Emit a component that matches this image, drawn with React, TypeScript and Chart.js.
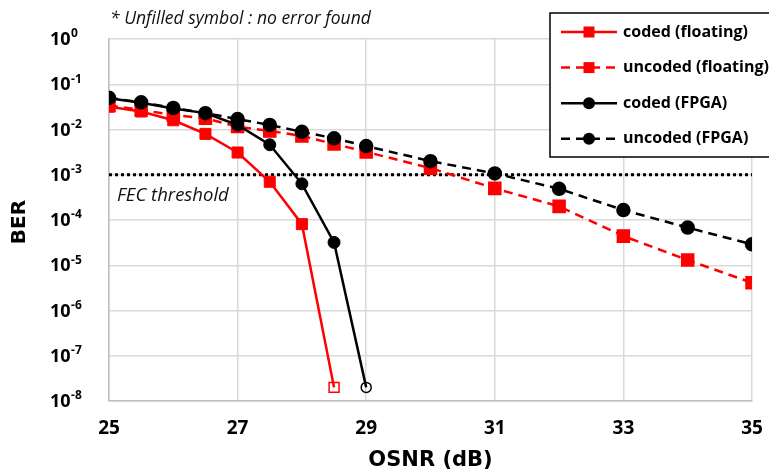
import { useEffect, useRef } from 'react';
import { Chart, registerables } from 'chart.js';

Chart.register(...registerables);

// ---- data ----
const osnrCodedFloating = [25, 25.5, 26, 26.5, 27, 27.5, 28, 28.5];
const berCodedFloating = [0.032, 0.025, 0.016, 0.008, 0.0031, 0.0007, 8.1e-5, 2e-8];
const osnrCodedFPGA = [25, 25.5, 26, 26.5, 27, 27.5, 28, 28.5, 29];
const berCodedFPGA = [0.049, 0.039, 0.029, 0.023, 0.0126, 0.0046, 0.00063, 3.2e-5, 2e-8];
const osnrUncoded = [25, 25.5, 26, 26.5, 27, 27.5, 28, 28.5, 29, 30, 31, 32, 33, 34, 35];
const berUncodedFloating = [0.034, 0.027, 0.021, 0.0177, 0.0116, 0.0093, 0.0072, 0.0048, 0.0032, 0.0014, 0.0005, 0.0002, 4.4e-5, 1.3e-5, 4.1e-6];
const berUncodedFPGA = [0.05, 0.04, 0.03, 0.023, 0.017, 0.0126, 0.0089, 0.0064, 0.0043, 0.002, 0.00107, 0.00049, 0.000166, 6.8e-5, 2.9e-5];
// index of points where no error was found (drawn unfilled)
const noErrorCodedFloating = [7];
const noErrorCodedFPGA = [8];
const fecThreshold = 1e-3;
const fecRange = [25, 35];
const xTickValues = [25, 27, 29, 31, 33, 35];
const yExponents = [0, -1, -2, -3, -4, -5, -6, -7, -8];

const seriesLabels = ['coded (floating)', 'uncoded (floating)', 'coded (FPGA)', 'uncoded (FPGA)'];
const noteText = '* Unfilled symbol : no error found';
const fecLabel = 'FEC threshold';
const xTitle = 'OSNR (dB)';
const yTitle = 'BER';

const RED = '#ff0000';
const BLACK = '#000000';
const FONT = '"Open Sans", "Noto Sans", sans-serif';
const WIDE_FONT = '"DejaVu Sans", "Open Sans", sans-serif';

function pts(xs: number[], ys: number[]) {
  return xs.map((x, i) => ({ x, y: ys[i] }));
}

function fills(n: number, color: string, empty: number[]) {
  return Array.from({ length: n }, (_, i) => (empty.includes(i) ? 'rgba(0,0,0,0)' : color));
}
function sizes(n: number, normal: number, emptyR: number, empty: number[]) {
  return Array.from({ length: n }, (_, i) => (empty.includes(i) ? emptyR : normal));
}

const decorPlugin = {
  id: 'decor',
  afterDraw(chart: any) {
    const ctx = chart.ctx as CanvasRenderingContext2D;
    const area = chart.chartArea;
    const yScale = chart.scales.y;
    ctx.save();

    // y tick labels with superscript exponents
    ctx.fillStyle = '#000';
    ctx.textAlign = 'left';
    ctx.textBaseline = 'middle';
    yScale.ticks.forEach((t: any) => {
      const py = yScale.getPixelForValue(t.value);
      const exp = Math.round(Math.log10(t.value));
      ctx.font = `bold 18px ${FONT}`;
      ctx.fillText('10', 50, py + 1);
      const w = ctx.measureText('10').width;
      ctx.font = `bold 12px ${FONT}`;
      ctx.fillText(String(exp), 50 + w + 0.5, py - 5);
    });

    // y title
    ctx.save();
    ctx.translate(20, (area.top + area.bottom) / 2 + 2);
    ctx.rotate(-Math.PI / 2);
    ctx.textAlign = 'center';
    ctx.textBaseline = 'middle';
    ctx.font = `bold 20px ${WIDE_FONT}`;
    ctx.fillText(yTitle, 0, 0);
    ctx.restore();

    // x title
    ctx.textAlign = 'center';
    ctx.textBaseline = 'middle';
    ctx.font = `bold 21px ${WIDE_FONT}`;
    ctx.fillText(xTitle, (area.left + area.right) / 2, 461);

    // note and FEC label
    ctx.textAlign = 'left';
    ctx.fillStyle = '#111';
    ctx.font = `italic 17.5px ${FONT}`;
    ctx.fillText(noteText, 110, 19);
    ctx.font = `italic 18.5px ${FONT}`;
    ctx.fillText(fecLabel, 117, yScale.getPixelForValue(fecThreshold) + 21);

    // legend
    const bx = 550, by = 13, bw = 240, bh = 144;
    ctx.fillStyle = '#fff';
    ctx.fillRect(bx, by, bw, bh);
    ctx.strokeStyle = '#000';
    ctx.lineWidth = 1.5;
    ctx.strokeRect(bx, by, bw, bh);
    const legendSets = chart.data.datasets.filter((d: any) => seriesLabels.includes(d.label));
    legendSets.forEach((d: any, i: number) => {
      const ry = 32 + i * 35.6;
      ctx.strokeStyle = d.borderColor;
      ctx.lineWidth = 2.5;
      ctx.setLineDash(d.borderDash || []);
      ctx.beginPath();
      ctx.moveTo(561, ry);
      ctx.lineTo(617, ry);
      ctx.stroke();
      ctx.setLineDash([]);
      ctx.fillStyle = d.borderColor;
      if (d.pointStyle === 'rect') {
        ctx.fillRect(589 - 5.5, ry - 5.5, 11, 11);
      } else {
        ctx.beginPath();
        ctx.arc(589, ry, 6, 0, Math.PI * 2);
        ctx.fill();
      }
      ctx.fillStyle = '#000';
      ctx.font = `bold 16px ${FONT}`;
      ctx.textAlign = 'left';
      ctx.textBaseline = 'middle';
      ctx.fillText(d.label, 623, ry);
    });

    ctx.restore();
  },
};

export default function App() {
  const ref = useRef<HTMLCanvasElement | null>(null);

  useEffect(() => {
    if (!ref.current) return;
    const chart = new Chart(ref.current, {
      type: 'line',
      data: {
        datasets: [
          {
            label: seriesLabels[0],
            data: pts(osnrCodedFloating, berCodedFloating),
            borderColor: RED,
            borderWidth: 2.5,
            pointStyle: 'rect',
            pointRadius: sizes(osnrCodedFloating.length, 7.8, 7, noErrorCodedFloating),
            pointBackgroundColor: fills(osnrCodedFloating.length, RED, noErrorCodedFloating),
            pointBorderColor: RED,
            pointBorderWidth: sizes(osnrCodedFloating.length, 1, 1.5, noErrorCodedFloating),
            order: 3,
          },
          {
            label: seriesLabels[1],
            data: pts(osnrUncoded, berUncodedFloating),
            borderColor: RED,
            borderWidth: 2.5,
            borderDash: [9, 6],
            pointStyle: 'rect',
            pointRadius: 7.8,
            pointBackgroundColor: RED,
            pointBorderColor: RED,
            order: 4,
          },
          {
            label: seriesLabels[2],
            data: pts(osnrCodedFPGA, berCodedFPGA),
            borderColor: BLACK,
            borderWidth: 2.5,
            pointStyle: 'circle',
            pointRadius: sizes(osnrCodedFPGA.length, 6, 5, noErrorCodedFPGA),
            pointBackgroundColor: fills(osnrCodedFPGA.length, BLACK, noErrorCodedFPGA),
            pointBorderColor: BLACK,
            pointBorderWidth: sizes(osnrCodedFPGA.length, 1, 1.5, noErrorCodedFPGA),
            order: 1,
          },
          {
            label: seriesLabels[3],
            data: pts(osnrUncoded, berUncodedFPGA),
            borderColor: BLACK,
            borderWidth: 2.5,
            borderDash: [9, 6],
            pointStyle: 'circle',
            pointRadius: 6,
            pointBackgroundColor: BLACK,
            pointBorderColor: BLACK,
            order: 2,
          },
          {
            label: 'FEC',
            data: fecRange.map((x) => ({ x, y: fecThreshold })),
            borderColor: BLACK,
            borderWidth: 3,
            borderDash: [3, 3],
            pointRadius: 0,
            order: 5,
          },
        ],
      },
      options: {
        animation: false,
        responsive: false,
        maintainAspectRatio: false,
        layout: { padding: { top: 39, right: 17, left: 0, bottom: 0 } },
        plugins: { legend: { display: false }, tooltip: { enabled: false } },
        scales: {
          x: {
            type: 'linear',
            min: 25,
            max: 35,
            afterBuildTicks: (s: any) => {
              s.ticks = xTickValues.map((v) => ({ value: v }));
            },
            afterFit: (s: any) => {
              s.height = 72;
              s.paddingLeft = 0;
              s.paddingRight = 0;
            },
            ticks: {
              font: { family: FONT, size: 19, weight: 'bold' },
              color: '#000',
              padding: 16,
              maxRotation: 0,
              autoSkip: false,
            },
            grid: { color: '#d9d9d9', lineWidth: 1.5, drawTicks: false },
            border: { color: '#bfbfbf', width: 1.5 },
          },
          y: {
            type: 'logarithmic',
            min: 1e-8,
            max: 1,
            afterBuildTicks: (s: any) => {
              s.ticks = yExponents.map((e) => ({ value: Number(`1e${e}`) }));
            },
            afterFit: (s: any) => {
              s.width = 109;
              s.paddingTop = 0;
              s.paddingBottom = 0;
            },
            ticks: { display: false },
            grid: { color: '#d9d9d9', lineWidth: 1.5, drawTicks: false },
            border: { color: '#bfbfbf', width: 1.5 },
          },
        },
      },
      plugins: [decorPlugin],
    } as any);
    return () => chart.destroy();
  }, []);

  return (
    <div style={{ position: 'absolute', left: 0, top: 0, width: 769, height: 473, background: '#fff' }}>
      <canvas ref={ref} width={769} height={473} style={{ display: 'block' }} />
    </div>
  );
}
